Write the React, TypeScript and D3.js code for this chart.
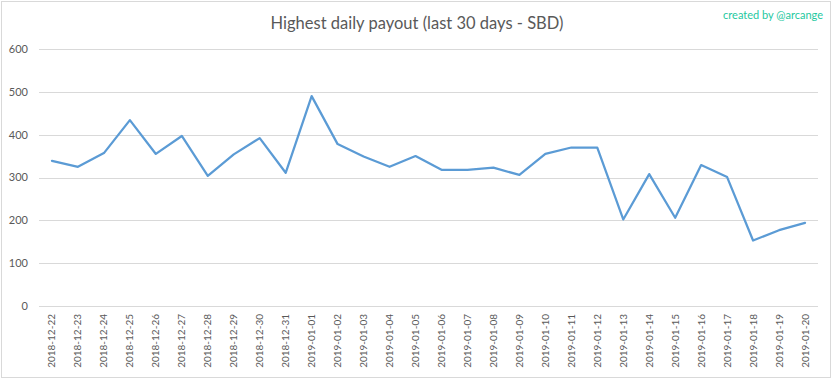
import React from "react";
import * as d3 from "d3";

const dates = [
  "2018-12-22","2018-12-23","2018-12-24","2018-12-25","2018-12-26","2018-12-27","2018-12-28",
  "2018-12-29","2018-12-30","2018-12-31","2019-01-01","2019-01-02","2019-01-03","2019-01-04",
  "2019-01-05","2019-01-06","2019-01-07","2019-01-08","2019-01-09","2019-01-10","2019-01-11",
  "2019-01-12","2019-01-13","2019-01-14","2019-01-15","2019-01-16","2019-01-17","2019-01-18",
  "2019-01-19","2019-01-20",
];
const payouts = [
  339, 325, 357, 434, 355, 397, 304, 354, 392, 311, 490, 378, 349, 325, 350, 318, 318, 323,
  306, 355, 370, 370, 202, 308, 206, 329, 301, 153, 177, 194,
];
const yTicks = [0, 100, 200, 300, 400, 500, 600];
const title = "Highest daily payout (last 30 days - SBD)";
const credit = "created by @arcange";

const W = 833;
const H = 379;
const left = 39;
const right = 818;
const top = 49;
const bottom = 306;
const FONT = "Lato, 'Open Sans', sans-serif";

export default function App() {
  const x = d3.scaleBand<string>().domain(dates).range([left, right]);
  const y = d3.scaleLinear().domain([0, 600]).range([bottom, top]);
  const line = d3
    .line<number>()
    .x((_, i) => (x(dates[i]) as number) + x.bandwidth() / 2)
    .y((d) => y(d));

  return (
    <svg
      width={W}
      height={H}
      style={{ position: "absolute", left: 0, top: 0, background: "#fff" }}
    >
      <rect x={0} y={0} width={W} height={H} fill="#fff" />
      <rect x={1.5} y={1.5} width={829} height={376} fill="none" stroke="#d9d9d9" strokeWidth={1} />
      <text x={417} y={29} textAnchor="middle" fontFamily={FONT} fontSize={16.5} fill="#595959">
        {title}
      </text>
      <text x={823} y={19} textAnchor="end" fontFamily={FONT} fontSize={11} fill="#1ec8a0">
        {credit}
      </text>
      {yTicks.map((t) => (
        <g key={t}>
          <line
            x1={left}
            x2={right}
            y1={Math.round(y(t)) + 0.5}
            y2={Math.round(y(t)) + 0.5}
            stroke="#d9d9d9"
            strokeWidth={1}
          />
          <text
            x={28}
            y={y(t)}
            dy="0.35em"
            textAnchor="end"
            fontFamily={FONT}
            fontSize={11}
            fill="#595959"
          >
            {t}
          </text>
        </g>
      ))}
      {dates.map((d) => {
        const cx = (x(d) as number) + x.bandwidth() / 2;
        return (
          <text
            key={d}
            transform={`translate(${cx},${314}) rotate(-90)`}
            textAnchor="end"
            dy="0.35em"
            fontFamily={FONT}
            fontSize={10}
            fill="#595959"
          >
            {d}
          </text>
        );
      })}
      <path
        d={line(payouts) || ""}
        fill="none"
        stroke="#5b9bd5"
        strokeWidth={2.25}
        strokeLinejoin="round"
        strokeLinecap="round"
      />
    </svg>
  );
}
